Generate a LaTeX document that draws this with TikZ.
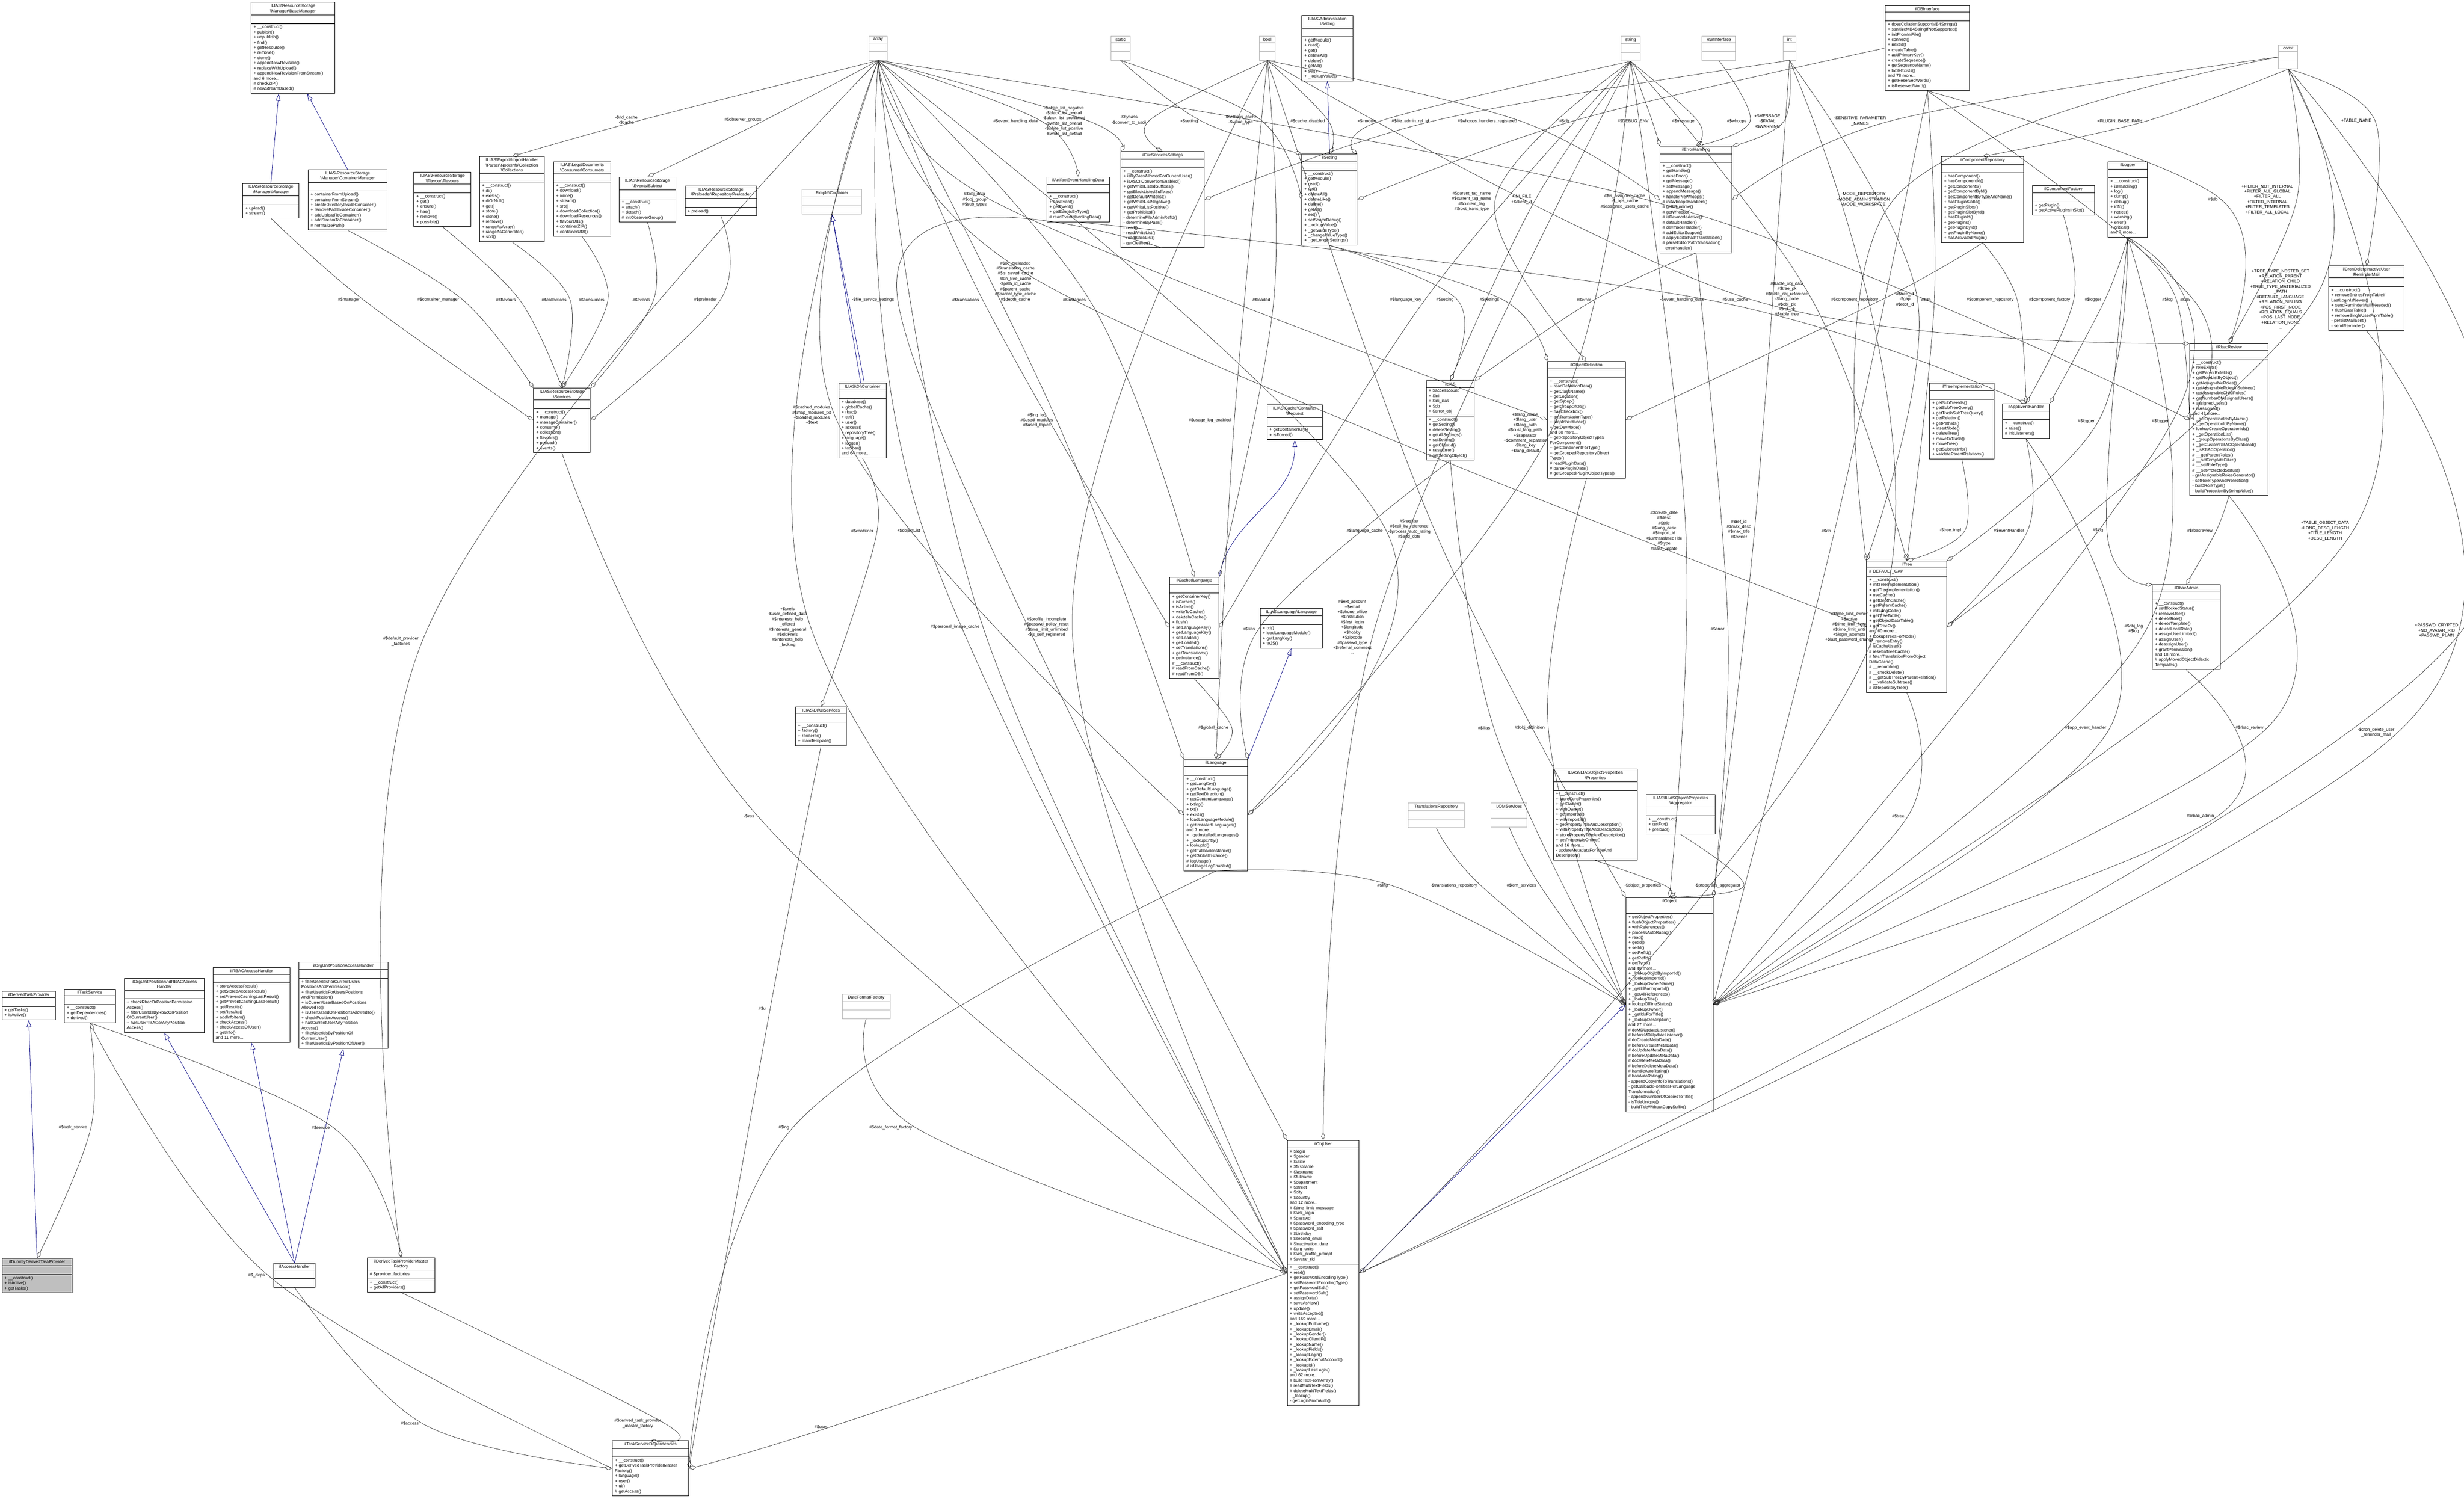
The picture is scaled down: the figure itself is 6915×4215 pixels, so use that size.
\documentclass[tikz,border=0pt]{standalone}
\usepackage{fontspec}
\setmainfont{Liberation Sans}
\usetikzlibrary{shapes.multipart,arrows.meta,calc}
\newcounter{lc}
\newcommand\tinyf{\fontsize{3.4pt}{4.1pt}\selectfont\baselineskip=4.1pt\lineskip=0pt\lineskiplimit=-10pt\parskip=0pt}
\tikzset{
  cls/.style={draw=black, line width=0.4pt, rectangle split, rectangle split parts=3,
    font=\tinyf, align=left, inner xsep=2pt, inner ysep=1.2pt, anchor=north west},
  prim/.style={cls, draw=gray!60},
  grayfill/.style={fill=gray!50},
  lbl/.style={font=\tinyf, align=center, inner sep=1pt},
  agg/.style={draw=gray!40!black, line width=0.3pt, -{Diamond[open,length=0.22cm,width=0.11cm]}},
  inh/.style={draw=blue!50!black, line width=0.3pt, -{Triangle[open,length=0.2cm,width=0.13cm]}}
}
\newcommand\cls[7][]{\node[cls,#1,text width={#4*0.01cm-4pt}] (#2) at (#3) {\centering #5\par\nodepart{two}#6\strut\nodepart{three}#7\strut};}
\newcommand\prm[4]{\node[prim,text width={#3*0.01cm-4pt}] (#1) at (#2) {\centering #4\par\nodepart{two}\strut\nodepart{three}\strut};}
\newcommand\ag[4]{\stepcounter{lc}\node[lbl] (L\thelc) at (#2) {#4};
  \draw[agg] plot[smooth,tension=0.6] coordinates {(#1) ([xshift=0.06cm]L\thelc.east) (#3)};}
\begin{document}
\begin{tikzpicture}[x=0.01cm,y=-0.01cm]
\useasboundingbox (0,0) rectangle (6915,4215);
% ---------- primitives
\prm{array}{2438,101}{52}{array}
\prm{static}{3117,101}{54}{static}
\prm{bool}{3534,101}{44}{bool}
\prm{string}{4549,101}{53}{string}
\prm{run}{4776,101}{94}{RunInterface}
\prm{int}{5003,101}{37}{int}
\prm{const}{6394,126}{54}{const}
\prm{pimple}{2250,531}{168}{Pimple\textbackslash Container}
\prm{trrepo}{3951,2253}{158}{TranslationsRepository}
\prm{lom}{4184,2253}{101}{LOMServices}
\prm{dff}{2363,2789}{134}{DateFormatFactory}
% ---------- classes
\cls{basem}{704,6}{235}{ILIAS\textbackslash ResourceStorage\\\textbackslash Manager\textbackslash BaseManager}{}{+ \_\_construct()\\+ publish()\\+ unpublish()\\+ find()\\+ getResource()\\+ remove()\\+ clone()\\+ appendNewRevision()\\+ replaceWithUpload()\\+ appendNewRevisionFromStream()\\and 6 more...\\\# checkZIP()\\\# newStreamBased()}
\cls{manager}{681,514}{157}{ILIAS\textbackslash ResourceStorage\\\textbackslash Manager\textbackslash Manager}{}{+ upload()\\+ stream()}
\cls{contm}{864,476}{222}{ILIAS\textbackslash ResourceStorage\\\textbackslash Manager\textbackslash ContainerManager}{}{+ containerFromUpload()\\+ containerFromStream()\\+ createDirectoryInsideContainer()\\+ removePathInsideContainer()\\+ addUploadToContainer()\\+ addStreamToContainer()\\\# normalizePath()}
\cls{flav}{1161,483}{160}{ILIAS\textbackslash ResourceStorage\\\textbackslash Flavour\textbackslash Flavours}{}{+ \_\_construct()\\+ get()\\+ ensure()\\+ has()\\+ remove()\\+ possible()}
\cls{coll}{1345,439}{182}{ILIAS\textbackslash Export\textbackslash ImportHandler\\\textbackslash Parser\textbackslash NodeInfo\textbackslash Collection\\\textbackslash Collections}{}{+ \_\_construct()\\+ di()\\+ exists()\\+ diOrNull()\\+ get()\\+ store()\\+ clone()\\+ remove()\\+ rangeAsArray()\\+ rangeAsGenerator()\\+ sort()}
\cls{cons}{1553,453}{160}{ILIAS\textbackslash LegalDocuments\\\textbackslash Consumer\textbackslash Consumers}{}{+ \_\_construct()\\+ download()\\+ inline()\\+ stream()\\+ src()\\+ downloadCollection()\\+ downloadResources()\\+ flavourUrls()\\+ containerZIP()\\+ containerURI()}
\cls{subj}{1737,497}{159}{ILIAS\textbackslash ResourceStorage\\\textbackslash Events\textbackslash Subject}{}{+ \_\_construct()\\+ attach()\\+ detach()\\\# initObserverGroup()}
\cls{preload}{1922,521}{201}{ILIAS\textbackslash ResourceStorage\\\textbackslash Preloader\textbackslash RepositoryPreloader}{}{+ preload()}
\cls{dic}{2354,1075}{132}{ILIAS\textbackslash DI\textbackslash Container}{}{+ database()\\+ globalCache()\\+ rbac()\\+ ctrl()\\+ user()\\+ access()\\+ repositoryTree()\\+ language()\\+ logger()\\+ toolbar()\\and 64 more...}
\cls{rss}{1497,1089}{159}{ILIAS\textbackslash ResourceStorage\\\textbackslash Services}{}{+ \_\_construct()\\+ manage()\\+ manageContainer()\\+ consume()\\+ collection()\\+ flavours()\\+ preload()\\+ events()}
\cls{admset}{3653,43}{143}{ILIAS\textbackslash Administration\\\textbackslash Setting}{}{+ getModule()\\+ read()\\+ get()\\+ deleteAll()\\+ delete()\\+ getAll()\\+ set()\\+ \_lookupValue()}
\cls{db}{5290,15}{237}{ilDBInterface}{}{+ doesCollationSupportMB4Strings()\\+ sanitizeMB4StringIfNotSupported()\\+ initFromIniFile()\\+ connect()\\+ nextId()\\+ createTable()\\+ addPrimaryKey()\\+ createSequence()\\+ getSequenceName()\\+ tableExists()\\and 78 more...\\+ getReservedWords()\\+ isReservedWord()}
\cls{artif}{2937,496}{176}{ilArtifactEventHandlingData}{}{+ \_\_construct()\\+ hasEvent()\\+ getEvent()\\+ getEventsByType()\\\# readEventHandlingData()}
\cls{fss}{3145,425}{234}{ilFileServicesSettings}{}{+ \_\_construct()\\+ isByPassAllowedForCurrentUser()\\+ isASCIIConvertionEnabled()\\+ getWhiteListedSuffixes()\\+ getBlackListedSuffixes()\\+ getDefaultWhitelist()\\+ getWhiteListNegative()\\+ getWhiteListPositive()\\+ getProhibited()\\- determineFileAdminRefId()\\- determineByPass()\\- read()\\- readWhiteList()\\- readBlackList()\\- getCleaner()}
\cls{ilset}{3653,432}{155}{ilSetting}{}{+ \_\_construct()\\+ getModule()\\+ read()\\+ get()\\+ deleteAll()\\+ deleteLike()\\+ delete()\\+ getAll()\\+ set()\\+ setScormDebug()\\+ \_lookupValue()\\+ \_getValueType()\\+ \_changeValueType()\\+ \_getLongerSettings()}
\cls{err}{4658,410}{202}{ilErrorHandling}{}{+ \_\_construct()\\+ getHandler()\\+ raiseError()\\+ getMessage()\\+ setMessage()\\+ appendMessage()\\+ handlePreWhoops()\\\# initWhoopsHandlers()\\\# getIlRuntime()\\\# getWhoops()\\\# isDevmodeActive()\\\# defaultHandler()\\\# devmodeHandler()\\\# addEditorSupport()\\\# applyEditorPathTranslations()\\\# parseEditorPathTranslation()\\- errorHandler()}
\cls{objdef}{4342,1014}{219}{ilObjectDefinition}{}{+ \_\_construct()\\+ readDefinitionData()\\+ getClassName()\\+ getLocation()\\+ getGroup()\\+ getGroupOfObj()\\+ hasCheckbox()\\+ getTranslationType()\\+ stopInheritance()\\+ getDevMode()\\and 38 more...\\+ getRepositoryObjectTypes\\ForComponent()\\+ getComponentForType()\\+ getGroupedRepositoryObject\\Types()\\\# readPluginData()\\\# parsePluginData()\\\# getGroupedPluginObjectTypes()}
\cls{ilias}{4002,1068}{135}{ILIAS}{+ \$accesscount\\+ \$ini\\+ \$ini\_ilias\\+ \$db\\+ \$error\_obj}{+ \_\_construct()\\+ getSetting()\\+ deleteSetting()\\+ getAllSettings()\\+ setSetting()\\+ getClientId()\\+ raiseError()\\\# getSettingObject()}
\cls{creq}{3555,1136}{156}{ILIAS\textbackslash Cache\textbackslash Container\\\textbackslash Request}{}{+ getContainerKey()\\+ isForced()}
\cls{comprep}{5448,439}{231}{ilComponentRepository}{}{+ hasComponent()\\+ hasComponentId()\\+ getComponents()\\+ getComponentById()\\+ getComponentByTypeAndName()\\+ hasPluginSlotId()\\+ getPluginSlots()\\+ getPluginSlotById()\\+ hasPluginId()\\+ getPlugins()\\+ getPluginById()\\+ getPluginByName()\\+ hasActivatedPlugin()}
\cls{compfac}{5703,520}{174}{ilComponentFactory}{}{+ getPlugin()\\+ getActivePluginsInSlot()}
\cls{logger}{5915,453}{111}{ilLogger}{}{+ \_\_construct()\\+ isHandling()\\+ log()\\+ dump()\\+ debug()\\+ info()\\+ notice()\\+ warning()\\+ error()\\+ critical()\\and 7 more...}
\cls{cron}{6535,746}{211}{ilCronDeleteInactiveUser\\ReminderMail}{}{+ \_\_construct()\\+ removeEntriesFromTableIf\\LastLoginIsNewer()\\+ sendReminderMailIfNeeded()\\+ flushDataTable()\\+ removeSingleUserFromTable()\\- persistMailSent()\\- sendReminder()}
\cls{rbrev}{6145,964}{219}{ilRbacReview}{}{+ \_\_construct()\\+ roleExists()\\+ getParentRoleIds()\\+ getRoleListByObject()\\+ getAssignableRoles()\\+ getAssignableRolesInSubtree()\\+ getAssignableChildRoles()\\+ getNumberOfAssignedUsers()\\+ assignedUsers()\\+ isAssigned()\\and 43 more...\\+ \_getOperationIdsByName()\\+ \_getOperationIdByName()\\+ lookupCreateOperationIds()\\+ \_getOperationList()\\+ \_groupOperationsByClass()\\+ \_getCustomRBACOperationId()\\+ \_isRBACOperation()\\\# \_\_getParentRoles()\\\# \_\_setTemplateFilter()\\\# \_\_setRoleType()\\\# \_\_setProtectedStatus()\\- getAssignableRolesGenerator()\\- setRoleTypeAndProtection()\\- buildRoleType()\\- buildProtectionByStringValue()}
\cls{treeimpl}{5415,1075}{180}{ilTreeImplementation}{}{+ getSubTreeIds()\\+ getSubTreeQuery()\\+ getTrashSubTreeQuery()\\+ getRelation()\\+ getPathIds()\\+ insertNode()\\+ deleteTree()\\+ moveToTrash()\\+ moveTree()\\+ getSubtreeInfo()\\+ validateParentRelations()}
\cls{appev}{5619,1132}{132}{ilAppEventHandler}{}{+ \_\_construct()\\+ raise()\\\# initListeners()}
\cls{tree}{5238,1574}{225}{ilTree}{\# DEFAULT\_GAP}{+ \_\_construct()\\+ initTreeImplementation()\\+ getTreeImplementation()\\+ useCache()\\+ getDepthCache()\\+ getParentCache()\\+ initLangCode()\\+ getTreeTable()\\+ getObjectDataTable()\\+ getTreePk()\\and 60 more...\\+ lookupTreesForNode()\\+ \_removeEntry()\\\# isCacheUsed()\\\# resetInTreeCache()\\\# fetchTranslationFromObject\\DataCache()\\\# \_\_renumber()\\\# \_\_checkDelete()\\\# \_\_getSubTreeByParentRelation()\\\# \_\_validateSubtrees()\\\# isRepositoryTree()}
\cls{rbadm}{6040,1640}{190}{ilRbacAdmin}{}{+ \_\_construct()\\+ setBlockedStatus()\\+ removeUser()\\+ deleteRole()\\+ deleteTemplate()\\+ deleteLocalRole()\\+ assignUserLimited()\\+ assignUser()\\+ deassignUser()\\+ grantPermission()\\and 18 more...\\\# applyMovedObjectDidactic\\Templates()}
\cls{cachlng}{3282,1619}{138}{ilCachedLanguage}{}{+ getContainerKey()\\+ isForced()\\+ isActive()\\+ writeToCache()\\+ deleteInCache()\\+ flush()\\+ setLanguageKey()\\+ getLanguageKey()\\+ setLoaded()\\+ getLoaded()\\+ setTranslations()\\+ getTranslations()\\+ getInstance()\\\# \_\_construct()\\\# readFromCache()\\\# readFromDB()}
\cls{langif}{3536,1707}{175}{ILIAS\textbackslash Language\textbackslash Language}{}{+ txt()\\+ loadLanguageModule()\\+ getLangKey()\\+ toJS()}
\cls{lng}{3322,2130}{179}{ilLanguage}{}{+ \_\_construct()\\+ getLangKey()\\+ getDefaultLanguage()\\+ getTextDirection()\\+ getContentLanguage()\\+ txtlng()\\+ txt()\\+ exists()\\+ loadLanguageModule()\\+ getInstalledLanguages()\\and 7 more...\\+ \_getInstalledLanguages()\\+ \_lookupEntry()\\+ lookupId()\\+ getFallbackInstance()\\+ getGlobalInstance()\\\# logUsage()\\\# isUsageLogEnabled()}
\cls{props}{4359,2158}{235}{ILIAS\textbackslash ILIASObject\textbackslash Properties\\\textbackslash Properties}{}{+ \_\_construct()\\+ storeCoreProperties()\\+ getOwner()\\+ withOwner()\\+ getImportId()\\+ withImportId()\\+ getPropertyTitleAndDescription()\\+ withPropertyTitleAndDescription()\\+ storePropertyTitleAndDescription()\\+ getPropertyIsOnline()\\and 16 more...\\- updateMetadataForTitleAnd\\Description()}
\cls{aggr}{4619,2229}{194}{ILIAS\textbackslash ILIASObject\textbackslash Properties\\\textbackslash Aggregator}{}{+ \_\_construct()\\+ getFor()\\+ preload()}
\cls{obj}{4562,2518}{245}{ilObject}{}{+ getObjectProperties()\\+ flushObjectProperties()\\+ withReferences()\\+ processAutoRating()\\+ read()\\+ getId()\\+ setId()\\+ setRefId()\\+ getRefId()\\+ getType()\\and 40 more...\\+ \_lookupObjIdByImportId()\\+ \_lookupImportId()\\+ \_lookupOwnerName()\\+ \_getIdForImportId()\\+ \_getAllReferences()\\+ \_lookupTitle()\\+ lookupOfflineStatus()\\+ \_lookupOwner()\\+ \_getIdsForTitle()\\+ \_lookupDescription()\\and 27 more...\\\# doMDUpdateListener()\\\# beforeMDUpdateListener()\\\# doCreateMetaData()\\\# beforeCreateMetaData()\\\# doUpdateMetaData()\\\# beforeUpdateMetaData()\\\# doDeleteMetaData()\\\# beforeDeleteMetaData()\\\# handleAutoRating()\\\# hasAutoRating()\\- appendCopyInfoToTranslations()\\- getCallbackForTitlesPerLanguage\\Transformation()\\- appendNumberOfCopiesToTitle()\\- isTitleUnique()\\- buildTitleWithoutCopySuffix()}
\cls{uis}{2232,1983}{143}{ILIAS\textbackslash DI\textbackslash UIServices}{}{+ \_\_construct()\\+ factory()\\+ renderer()\\+ mainTemplate()}
\cls{dtp}{5,2781}{150}{ilDerivedTaskProvider}{}{+ getTasks()\\+ isActive()}
\cls{tsvc}{180,2775}{143}{ilTaskService}{}{+ \_\_construct()\\+ getDependencies()\\+ derived()}
\cls{oupr}{348,2745}{225}{ilOrgUnitPositionAndRBACAccess\\Handler}{}{+ checkRbacOrPositionPermission\\Access()\\+ filterUserIdsByRbacOrPosition\\OfCurrentUser()\\+ hasUserRBACorAnyPosition\\Access()}
\cls{rbacc}{598,2715}{215}{ilRBACAccessHandler}{}{+ storeAccessResult()\\+ getStoredAccessResult()\\+ setPreventCachingLastResult()\\+ getPreventCachingLastResult()\\+ getResults()\\+ setResults()\\+ addInfoItem()\\+ checkAccess()\\+ checkAccessOfUser()\\+ getInfo()\\and 11 more...}
\cls{oupa}{838,2700}{250}{ilOrgUnitPositionAccessHandler}{}{+ filterUserIdsForCurrentUsers\\PositionsAndPermission()\\+ filterUserIdsForUsersPositions\\AndPermission()\\+ isCurrentUserBasedOnPositions\\AllowedTo()\\+ isUserBasedOnPositionsAllowedTo()\\+ checkPositionAccess()\\+ hasCurrentUserAnyPosition\\Access()\\+ filterUserIdsByPositionOf\\CurrentUser()\\+ filterUserIdsByPositionOfUser()}
\cls[grayfill]{dummy}{5,3531}{197}{ilDummyDerivedTaskProvider}{}{+ \_\_construct()\\+ isActive()\\+ getTasks()}
\cls{acc}{768,3545}{116}{ilAccessHandler}{}{}
\cls{mfac}{1030,3529}{190}{ilDerivedTaskProviderMaster\\Factory}{\# \$provider\_factories}{+ \_\_construct()\\+ getAllProviders()}
\cls{deps}{1718,4043}{214}{ilTaskServiceDependencies}{}{+ \_\_construct()\\+ getDerivedTaskProviderMaster\\Factory()\\+ language()\\+ user()\\+ ui()\\\# getAccess()}
\cls{user}{3612,3200}{201}{ilObjUser}{+ \$login\\+ \$gender\\+ \$utitle\\+ \$firstname\\+ \$lastname\\+ \$fullname\\+ \$department\\+ \$street\\+ \$city\\+ \$country\\and 12 more...\\\# \$time\_limit\_message\\\# \$last\_login\\\# \$passwd\\\# \$password\_encoding\_type\\\# \$password\_salt\\\# \$birthday\\\# \$second\_email\\\# \$inactivation\_date\\\# \$org\_units\\\# \$last\_profile\_prompt\\\# \$avatar\_rid}{+ \_\_construct()\\+ read()\\+ getPasswordEncodingType()\\+ setPasswordEncodingType()\\+ getPasswordSalt()\\+ setPasswordSalt()\\+ assignData()\\+ saveAsNew()\\+ update()\\+ writeAccepted()\\and 169 more...\\+ \_lookupFullname()\\+ \_lookupEmail()\\+ \_lookupGender()\\+ \_lookupClientIP()\\+ \_lookupName()\\+ \_lookupFields()\\+ \_lookupLogin()\\+ \_lookupExternalAccount()\\+ \_lookupId()\\+ \_lookupLastLogin()\\and 62 more...\\\# buildTextFromArray()\\\# readMultiTextFields()\\\# deleteMultiTextFields()\\- \_lookup()\\- getLoginFromAuth()}
% ---------- inheritance
\draw[inh] (manager.north) -- ([xshift=-0.4cm]basem.south);
\draw[inh] (contm.north) -- ([xshift=0.4cm]basem.south);
\draw[inh] ([xshift=-0.05cm]dic.north) -- (pimple.south);
\draw[inh] ([xshift=0.05cm]dic.north) -- (pimple.south);
\draw[inh] (ilset.north) -- (admset.south);
\draw[inh] (cachlng.north east) to[out=80,in=-90] (creq.south);
\draw[inh] (lng.north east) -- (langif.south);
\draw[inh] (user.east) -- (obj.west);
\draw[inh] (dummy.north) -- (dtp.south);
\draw[inh] (acc.north) -- (oupr.south);
\draw[inh] (acc.north) -- (rbacc.south);
\draw[inh] (acc.north) -- (oupa.south);
% ---------- aggregations
\ag{manager.south}{979,841}{rss.west}{\#\$manager}
\ag{contm.south}{1230,841}{rss.north west}{\#\$container\_manager}
\ag{flav.south}{1420,841}{rss.north}{\#\$flavours}
\ag{coll.south}{1555,841}{rss.north}{\#\$collections}
\ag{cons.south}{1660,841}{rss.north}{\#\$consumers}
\ag{subj.south}{1800,841}{rss.north east}{\#\$events}
\ag{preload.south}{1980,841}{rss.east}{\#\$preloader}
\ag{array.south}{1758,337}{coll.north}{-\$rid\_cache\\-\$cache}
\ag{array.south}{2085,337}{subj.north}{\#\$observer\_groups}
\ag{array.south}{2850,340}{artif.north}{\#\$event\_handling\_data}
\ag{array.south}{2986,340}{fss.north west}{-\$white\_list\_negative\\-\$black\_list\_overall\\-\$black\_list\_prohibited\\-\$white\_list\_overall\\-\$white\_list\_positive\\-\$white\_list\_default}
\ag{bool.south}{3168,337}{fss.north}{-\$bypass\\-\$convert\_to\_ascii}
\ag{static.south}{3337,340}{ilset.north west}{+\$setting}
\ag{static.south}{3482,336}{ilset.west}{-\$settings\_cache\\-\$value\_type}
\ag{bool.south}{3670,340}{ilset.north}{\#\$cache\_disabled}
\ag{string.south}{3836,340}{ilset.north east}{+\$module}
\ag{int.south}{3958,340}{fss.east}{\#\$file\_admin\_ref\_id}
\ag{bool.south}{4174,340}{err.west}{\#\$whoops\_handlers\_registered}
\ag{db.west}{4390,340}{ilset.east}{\#\$db}
\ag{string.south}{4583,340}{err.north west}{\#\$DEBUG\_ENV}
\ag{string.south}{4724,340}{err.north}{\#\$message}
\ag{run.south}{4874,340}{err.north}{\#\$whoops}
\ag{int.south}{4960,340}{err.north east}{+\$MESSAGE\\-\$FATAL\\+\$WARNING}
\ag{const.west}{5220,340}{err.east}{-SENSITIVE\_PARAMETER\\\_NAMES}
\ag{string.south}{4130,565}{objdef.north}{\#\$parent\_tag\_name\\\#\$current\_tag\_name\\\#\$current\_tag\\\#\$root\_trans\_type}
\ag{string.south}{4270,560}{ilias.north}{+INI\_FILE\\+\$client\_id}
\ag{array.south}{4560,565}{rbrev.west}{\#\$is\_assigned\_cache\\-\$\_ops\_cache\\\#\$assigned\_users\_cache}
\ag{array.south}{2735,560}{objdef.west}{\#\$obj\_data\\\#\$obj\_group\\\#\$sub\_types}
\ag{array.south}{2850,790}{tree.west}{\#\$oc\_preloaded\\\#\$translation\_cache\\\#\$is\_saved\_cache\\\#\$in\_tree\_cache\\-\$path\_id\_cache\\\#\$parent\_cache\\\#\$parent\_type\_cache\\\#\$depth\_cache}
\ag{array.south}{3015,841}{cachlng.north}{\#\$instances}
\ag{bool.south}{3540,841}{cachlng.north east}{\#\$loaded}
\ag{string.south}{3945,841}{cachlng.east}{\#\$language\_key}
\ag{ilset.south}{4055,841}{ilias.north}{\#\$setting}
\ag{ilset.south}{4180,841}{objdef.north west}{\#\$settings}
\ag{err.south}{4445,841}{ilias.north east}{\#\$error}
\ag{artif.south}{4720,841}{appev.north}{-\$event\_handling\_data}
\ag{bool.south}{4870,841}{rbrev.north west}{\#\$use\_cache}
\ag{string.south}{5015,840}{tree.north}{\#\$table\_obj\_data\\\#\$tree\_pk\\\#\$table\_obj\_reference\\-\$lang\_code\\\#\$obj\_pk\\\#\$ref\_pk\\\#\$table\_tree}
\ag{comprep.south}{5205,841}{objdef.east}{\#\$component\_repository}
\ag{array.south}{2910,1180}{lng.north west}{\#\$lng\_log\\\#\$used\_modules\\\#\$used\_topics}
\ag{bool.south}{3395,1180}{lng.north}{\#\$usage\_log\_enabled}
\ag{string.south}{4280,1215}{lng.east}{+\$lang\_name\\+\$lang\_user\\+\$lang\_path\\\#\$cust\_lang\_path\\+\$separator\\+\$comment\_separator\\-\$lang\_key\\+\$lang\_default}
\ag{array.south}{2278,1165}{lng.west}{\#\$cached\_modules\\\#\$map\_modules\_txt\\+\$loaded\_modules\\+\$text}
\ag{fss.south}{2450,841}{user.north west}{-\$file\_service\_settings}
\ag{array.south}{2710,841}{cachlng.west}{\#\$translations}
\ag{const.south}{5949,340}{comprep.north}{+PLUGIN\_BASE\_PATH}
\ag{const.south}{6613,340}{cron.north}{+TABLE\_NAME}
\ag{const.south}{6363,560}{rbrev.north}{+FILTER\_NOT\_INTERNAL\\+FILTER\_ALL\_GLOBAL\\+FILTER\_ALL\\+FILTER\_INTERNAL\\+FILTER\_TEMPLATES\\+FILTER\_ALL\_LOCAL}
\ag{const.south}{6400,840}{tree.east}{+TREE\_TYPE\_NESTED\_SET\\+RELATION\_PARENT\\+RELATION\_CHILD\\+TREE\_TYPE\_MATERIALIZED\\\_PATH\\\#DEFAULT\_LANGUAGE\\+RELATION\_SIBLING\\+POS\_FIRST\_NODE\\+RELATION\_EQUALS\\+POS\_LAST\_NODE\\+RELATION\_NONE\\...}
\ag{const.west}{5230,560}{tree.north west}{-MODE\_REPOSITORY\\-MODE\_ADMINISTRATION\\-MODE\_WORKSPACE}
\ag{db.south}{6210,560}{rbrev.north}{\#\$db}
\ag{int.south}{5346,840}{tree.north west}{\#\$tree\_id\\-\$gap\\\#\$root\_id}
\ag{db.south}{5405,841}{tree.north}{\#\$db}
\ag{comprep.south}{5585,841}{appev.north}{\#\$component\_repository}
\ag{compfac.south}{5752,841}{appev.north}{\#\$component\_factory}
\ag{logger.south}{5874,841}{appev.north east}{\#\$logger}
\ag{logger.south}{6083,841}{rbrev.west}{\#\$log}
\ag{db.south}{6132,841}{rbrev.west}{\#\$db}
\ag{logger.south}{5855,1183}{tree.north east}{\#\$logger}
\ag{logger.south}{6063,1183}{obj.east}{\#\$logger}
\ag{treeimpl.south}{5474,1489}{tree.north}{-\$tree\_impl}
\ag{appev.south}{5638,1489}{tree.east}{\#\$eventHandler}
\ag{logger.south}{5888,1489}{rbadm.north west}{\#\$log}
\ag{rbrev.south}{6174,1489}{rbadm.north}{\#\$rbacreview}
\ag{const.south}{6525,1490}{obj.east}{+TABLE\_OBJECT\_DATA\\+LONG\_DESC\_LENGTH\\+TITLE\_LENGTH\\+DESC\_LENGTH}
\ag{const.south}{6838,1770}{user.east}{+PASSWD\_CRYPTED\\+NO\_AVATAR\_RID\\+PASSWD\_PLAIN}
\ag{logger.south}{5988,1765}{obj.east}{\#\$obj\_log\\\#\$log}
\ag{appev.south}{5853,2043}{obj.east}{\#\$app\_event\_handler}
\ag{rbrev.south}{6313,2043}{obj.east}{\#\$rbac\_review}
\ag{cron.south}{6668,2055}{user.east}{-\$cron\_delete\_user\\\_reminder\_mail}
\ag{tree.south}{5327,2291}{obj.east}{\#\$tree}
\ag{rbadm.south}{6175,2291}{obj.east}{\#\$rbac\_admin}
\ag{cachlng.south}{3405,2043}{lng.north}{\#\$global\_cache}
\ag{array.south}{3830,1490}{lng.east}{\#\$language\_cache}
\ag{bool.south}{3955,1485}{obj.north west}{\#\$register\\\#\$call\_by\_reference\\-\$process\_auto\_rating\\\#\$add\_dots}
\ag{bool.south}{2937,1760}{user.west}{\#\$profile\_incomplete\\\#\$passwd\_policy\_reset\\\#\$time\_limit\_unlimited\\-\$is\_self\_registered}
\ag{ilias.south}{3505,1765}{lng.north east}{+\$ilias}
\ag{string.south}{3795,1760}{user.north}{\#\$ext\_account\\+\$email\\+\$phone\_office\\+\$institution\\\#\$first\_login\\+\$longitude\\+\$hobby\\+\$zipcode\\\#\$passwd\_type\\+\$referral\_comment\\...}
\ag{ilias.south}{4165,2043}{obj.west}{\#\$ilias}
\ag{objdef.south}{4293,2043}{obj.west}{\#\$obj\_definition}
\ag{string.south}{4670,1490}{obj.north}{\#\$create\_date\\\#\$desc\\\#\$title\\\#\$long\_desc\\\#\$import\_id\\+\$untranslatedTitle\\\#\$type\\\#\$last\_update}
\ag{int.south}{4880,1485}{obj.north east}{\#\$ref\_id\\\#\$max\_desc\\\#\$max\_title\\\#\$owner}
\ag{db.south}{5125,1490}{obj.east}{\#\$db}
\ag{err.south}{4820,1765}{obj.north east}{\#\$error}
\ag{int.south}{5190,1760}{user.east}{\#\$time\_limit\_owner\\+\$active\\\#\$time\_limit\_from\\\#\$time\_limit\_until\\+\$login\_attempts\\+\$last\_password\_change}
\ag{lng.south}{3880,2485}{obj.west}{\#\$lng}
\ag{trrepo.south}{4080,2485}{obj.west}{-\$translations\_repository}
\ag{lom.south}{4270,2485}{obj.west}{\#\$lom\_services}
\ag{props.south}{4610,2485}{obj.north}{-\$object\_properties}
\ag{aggr.south}{4820,2485}{obj.north}{-\$properties\_aggregator}
\ag{rss.south}{2102,2291}{user.west}{-\$irss}
\ag{array.south}{1125,1800}{mfac.north}{\#\$default\_provider\\\_factories}
\ag{array.south}{2210,1760}{user.west}{+\$prefs\\-\$user\_defined\_data\\\#\$interests\_help\\\_offered\\\#\$interests\_general\\\#\$oldPrefs\\\#\$interests\_help\\\_looking}
\ag{array.south}{2550,1490}{user.west}{+\$objectList}
\ag{array.south}{2680,1760}{user.west}{\#\$personal\_image\_cache}
\ag{dic.south}{2420,1490}{uis.north}{\#\$container}
\ag{tsvc.south}{205,3165}{dummy.north}{\#\$task\_service}
\ag{tsvc.south}{900,3165}{mfac.north}{\#\$service}
\ag{acc.south}{1150,3995}{deps.west}{\#\$access}
\ag{mfac.south}{1790,3995}{deps.north}{\#\$derived\_task\_provider\\\_master\_factory}
\ag{user.west}{2304,4004}{deps.east}{\#\$user}
\ag{lng.south}{2200,3165}{deps.east}{\#\$lng}
\ag{uis.south}{2140,2830}{deps.east}{\#\$ui}
\ag{dff.south}{2500,3165}{user.west}{\#\$date\_format\_factory}
\ag{deps.west}{720,3580}{tsvc.south}{\#\$\_deps}
\end{tikzpicture}
\end{document}
